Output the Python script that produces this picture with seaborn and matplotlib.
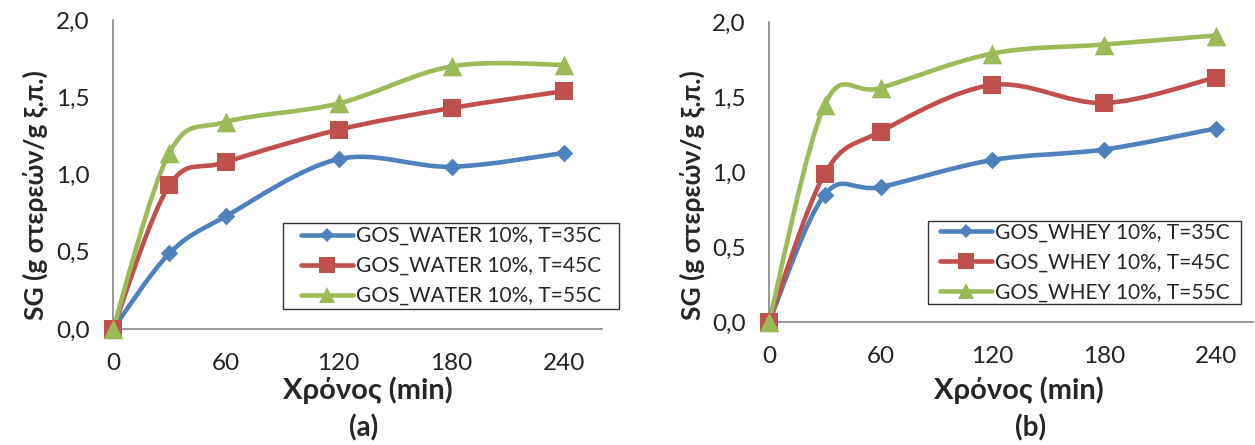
import matplotlib
matplotlib.use('Agg')
import matplotlib.pyplot as plt
import seaborn as sns
import pandas as pd
from matplotlib.path import Path
from matplotlib.patches import PathPatch, Rectangle
from matplotlib.lines import Line2D

# data
time_min = [0, 30, 60, 120, 180, 240]

water_35 = [0.0, 0.49, 0.73, 1.10, 1.05, 1.14]
water_45 = [0.0, 0.93, 1.08, 1.29, 1.43, 1.54]
water_55 = [0.0, 1.14, 1.34, 1.46, 1.70, 1.71]

whey_35 = [0.0, 0.85, 0.90, 1.08, 1.15, 1.29]
whey_45 = [0.0, 0.99, 1.27, 1.58, 1.46, 1.63]
whey_55 = [0.0, 1.45, 1.56, 1.79, 1.85, 1.91]

water_labels = ['GOS_WATER 10%, T=35C', 'GOS_WATER 10%, T=45C', 'GOS_WATER 10%, T=55C']
whey_labels = ['GOS_WHEY 10%, T=35C', 'GOS_WHEY 10%, T=45C', 'GOS_WHEY 10%, T=55C']

x_ticks = [0, 60, 120, 180, 240]
y_ticks = [0.0, 0.5, 1.0, 1.5, 2.0]
y_tick_labels = ['0,0', '0,5', '1,0', '1,5', '2,0']

colors = ['#4F81BD', '#C0504D', '#9BBB59']
markers = ['D', 's', '^']
marker_sizes = [80, 170, 200]

sns.set_style('white')
plt.rcParams['font.family'] = ['Lato', 'Open Sans', 'DejaVu Sans']

W, H = 1255, 445


def smooth_path(xs, ys):
    # Excel-like smoothed line: cubic Bezier through the points
    pts = list(zip(xs, ys))
    n = len(pts)
    verts = [pts[0]]
    codes = [Path.MOVETO]
    for i in range(n - 1):
        p0 = pts[i - 1] if i > 0 else pts[i]
        p1 = pts[i]
        p2 = pts[i + 1]
        p3 = pts[i + 2] if i + 2 < n else pts[i + 1]
        c1 = (p1[0] + (p2[0] - p0[0]) / 6, p1[1] + (p2[1] - p0[1]) / 6)
        c2 = (p2[0] - (p3[0] - p1[0]) / 6, p2[1] - (p3[1] - p1[1]) / 6)
        verts += [c1, c2, p2]
        codes += [Path.CURVE4] * 3
    return Path(verts, codes)


def draw_panel(ax, series, labels, leg_box, xlab_pos, ylab_pos):
    for vals, col, mk, ms in zip(series, colors, markers, marker_sizes):
        ax.add_patch(PathPatch(smooth_path(time_min, vals), fill=False, edgecolor=col,
                               lw=3.3, capstyle='round', joinstyle='round', clip_on=False))
        df = pd.DataFrame({'t': time_min, 'v': vals})
        sns.scatterplot(data=df, x='t', y='v', ax=ax, marker=mk, s=ms, color=col,
                        linewidth=0, clip_on=False, zorder=3)
    ax.set_xlim(0, 260)
    ax.set_ylim(0, 2.0)
    ax.set_xticks(x_ticks)
    ax.set_xticklabels([str(t) for t in x_ticks])
    ax.set_yticks(y_ticks)
    ax.set_yticklabels(y_tick_labels)
    ax.tick_params(axis='both', which='major', labelsize=17.5, color='#868686',
                   length=6, width=1, direction='out', labelcolor='#222222', pad=11)
    for side in ['top', 'right']:
        ax.spines[side].set_visible(False)
    for side in ['left', 'bottom']:
        ax.spines[side].set_color('#868686')
        ax.spines[side].set_linewidth(1.2)
    ax.set_xlabel('Χρόνος (min)', fontsize=21, fontweight='bold', va='center')
    ax.xaxis.set_label_coords(*xlab_pos)
    ax.set_ylabel('SG (g στερεών/g ξ.π.)', fontsize=19, fontweight='bold', va='center')
    ax.yaxis.set_label_coords(*ylab_pos)

    # legend with a square frame like the Excel one
    x0, y0, x1, y1 = leg_box
    fig = ax.figure
    fig.patches.append(Rectangle((x0 / W, 1 - y1 / H), (x1 - x0) / W, (y1 - y0) / H,
                                 transform=fig.transFigure, fill=False,
                                 edgecolor='#333333', lw=1.0, zorder=5))
    handles = [Line2D([], [], color=c, lw=3.3, marker=m, markersize=ms ** 0.5 * 0.85,
                      markeredgewidth=0) for c, m, ms in zip(colors, markers, marker_sizes)]
    ax.legend(handles, labels, loc='center',
              bbox_to_anchor=((x0 + x1) / 2 / W, 1 - (y0 + y1) / 2 / H),
              bbox_transform=fig.transFigure, borderaxespad=0, frameon=False,
              fontsize=15, handlelength=2.5, handletextpad=0.15,
              labelspacing=0.48, borderpad=0.2)


fig = plt.figure(figsize=(W / 100, H / 100), dpi=100)
ax1 = fig.add_axes([113 / W, 1 - 329 / H, 489 / W, 309 / H])
ax2 = fig.add_axes([769 / W, 1 - 322 / H, 484 / W, 300 / H])

draw_panel(ax1, [water_35, water_45, water_55], water_labels,
           (283, 223, 619, 309), (0.521, -0.197), (-0.160, 0.435))
draw_panel(ax2, [whey_35, whey_45, whey_55], whey_labels,
           (928, 221, 1241, 304), (0.517, -0.227), (-0.159, 0.423))

fig.text(364 / W, 1 - 428 / H, '(a)', fontsize=20, fontweight='bold', ha='center', va='center')
fig.text(1031 / W, 1 - 428 / H, '(b)', fontsize=20, fontweight='bold', ha='center', va='center')

fig.savefig('out.png', dpi=100, facecolor='white')
